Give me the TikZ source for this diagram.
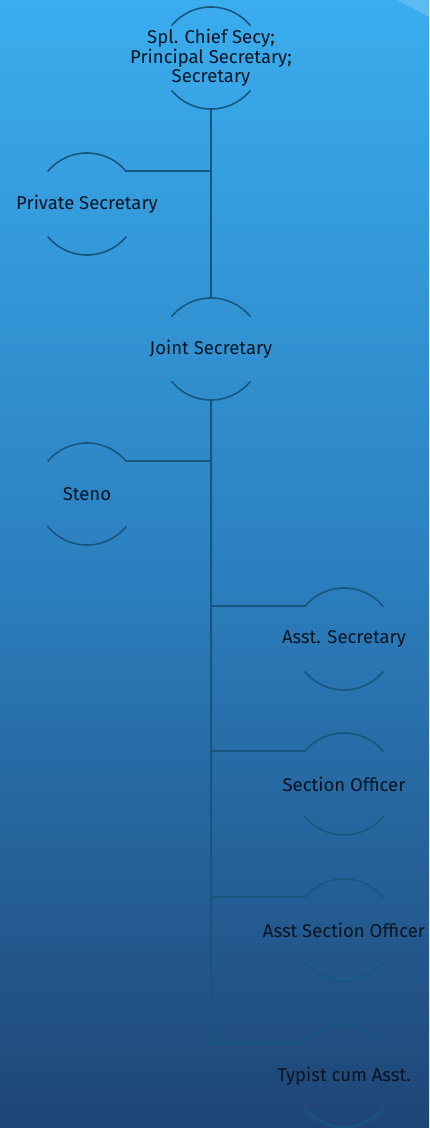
\documentclass[tikz,border=0pt]{standalone}
\usepackage{fontspec}
\setmainfont{Fira Sans}
\definecolor{bgtop}{HTML}{3AADEE}
\definecolor{bgmid}{HTML}{2C80C0}
\definecolor{bgbot}{HTML}{1F4575}
\definecolor{linkcol}{HTML}{17577F}
\definecolor{txtcol}{HTML}{0A1422}
\tikzset{
  post/.style={circle, minimum size=102pt, inner sep=0pt, outer sep=0pt},
  rim/.style={draw=linkcol, line width=1.6pt},
  link/.style={draw=linkcol, line width=2pt},
  title/.style={text=txtcol, align=center, inner sep=0pt}
}
% two open arcs round a post
\newcommand{\postarcs}[1]{%
  \draw[rim] (#1.40) arc[start angle=40, end angle=140, radius=51pt]
    (#1.220) arc[start angle=220, end angle=320, radius=51pt];}

\begin{document}
\begin{tikzpicture}[x=1pt, y=1pt, font=\fontsize{18.5}{19.5}\selectfont, line join=round, line cap=round]
  \shade[top color=bgtop, bottom color=bgbot, middle color=bgmid] (0,0) rectangle (429,-1128);
  \useasboundingbox (0,0) rectangle (429,-1128);
  \fill[white, opacity=0.18] (397,0) -- (429,0) -- (429,-17) -- cycle;

  % posts
  \node[post] (sec) at (211,-58) {};
  \node[post] (ps) at (87,-204) {};
  \node[post] (js) at (211,-349) {};
  \node[post] (steno) at (87,-494) {};
  \node[post] (as) at (344,-639) {};
  \node[post] (so) at (344,-784) {};
  \node[post] (aso) at (344,-930) {};
  \node[post] (typ) at (344,-1076) {};

  \node[title] (sec-t) at (sec) {Spl. Chief Secy;\\Principal Secretary;\\Secretary};
  \node[title] (ps-t) at (ps) {Private Secretary};
  \node[title] (js-t) at (js) {Joint Secretary};
  \node[title] (steno-t) at (steno) {Steno};
  \node[title] (as-t) at (as) {Asst. Secretary};
  \node[title] (so-t) at (so) {Section Officer};
  \node[title] (aso-t) at (aso) {Asst Section Officer};
  \node[title] (typ-t) at (typ) {Typist cum Asst.};

  \postarcs{sec} \postarcs{ps} \postarcs{js} \postarcs{steno}
  \postarcs{as} \postarcs{so} \postarcs{aso} \postarcs{typ}

  % trunk and branches
  \coordinate (foot) at (211,-1043);
  \draw[link] (sec.south) -- (js.north);
  \draw[link] (js.south) -- (foot) -- (typ.140);
  \draw[link] (ps.40) -- (ps.40 -| sec.south);
  \draw[link] (steno.40) -- (steno.40 -| js.south);
  \draw[link] (as.140) -- (as.140 -| js.south);
  \draw[link] (so.140) -- (so.140 -| js.south);
  \draw[link] (aso.140) -- (aso.140 -| js.south);
\end{tikzpicture}
\end{document}
